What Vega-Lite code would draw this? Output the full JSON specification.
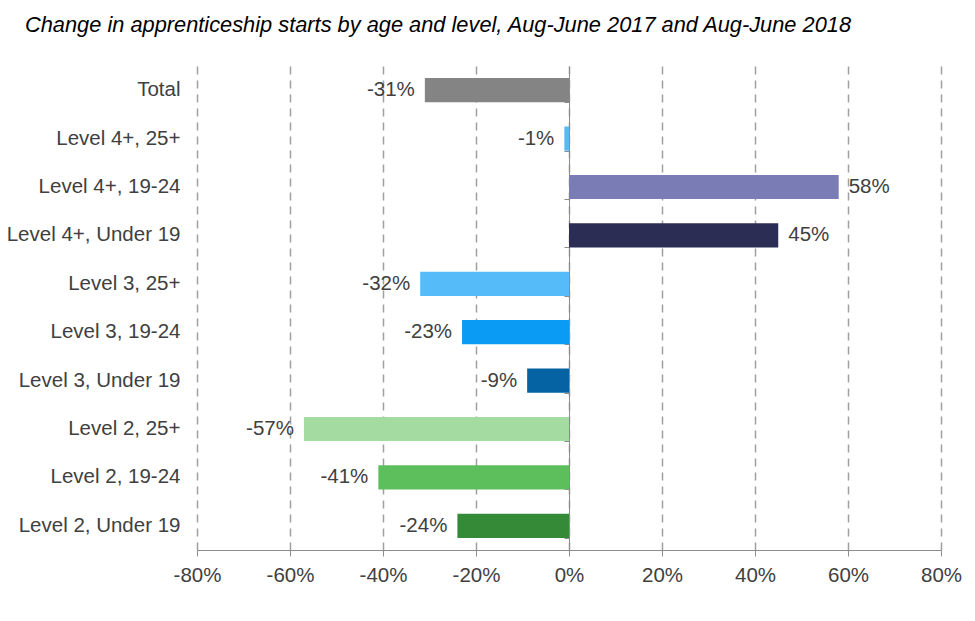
{
  "$schema": "https://vega.github.io/schema/vega-lite/v6.json",
  "autosize": {"type": "none"},
  "width": 744,
  "height": 484,
  "padding": {"left": 197, "top": 66, "right": 34, "bottom": 71},
  "background": "white",
  "title": {
    "text": "Change in apprenticeship starts by age and level, Aug-June 2017 and Aug-June 2018",
    "anchor": "start",
    "frame": "group",
    "dx": -172,
    "offset": 29,
    "font": "Liberation Sans",
    "fontSize": 21.8,
    "fontStyle": "italic",
    "fontWeight": "normal",
    "color": "#000000"
  },
  "config": {
    "view": {"stroke": null},
    "font": "Liberation Sans",
    "locale": {
      "number": {
        "decimal": ".",
        "thousands": ",",
        "grouping": [3],
        "currency": ["$", ""],
        "minus": "-"
      }
    }
  },
  "data": {
    "values": [
      {"group": "Total", "value": -0.31},
      {"group": "Level 4+, 25+", "value": -0.01},
      {"group": "Level 4+, 19-24", "value": 0.58},
      {"group": "Level 4+, Under 19", "value": 0.45},
      {"group": "Level 3, 25+", "value": -0.32},
      {"group": "Level 3, 19-24", "value": -0.23},
      {"group": "Level 3, Under 19", "value": -0.09},
      {"group": "Level 2, 25+", "value": -0.57},
      {"group": "Level 2, 19-24", "value": -0.41},
      {"group": "Level 2, Under 19", "value": -0.24}
    ]
  },
  "resolve": {"axis": {"y": "independent"}},
  "encoding": {
    "x": {
      "field": "value",
      "type": "quantitative",
      "scale": {"domain": [-0.8, 0.8], "nice": false},
      "axis": {
        "title": null,
        "format": ".0%",
        "labelExpr": "replace(datum.label, '\u2212', '-')",
        "values": [-0.8, -0.6, -0.4, -0.2, 0, 0.2, 0.4, 0.6, 0.8],
        "grid": true,
        "gridDash": [8, 6],
        "gridColor": "#a0a0a0",
        "gridWidth": 1.5,
        "domainColor": "#8c8c8c",
        "domainWidth": 1,
        "tickColor": "#8c8c8c",
        "tickSize": 6,
        "labelPadding": 9,
        "labelFlush": false,
        "labelOverlap": false,
        "labelBound": false,
        "labelFontSize": 20.5,
        "labelColor": "#404040",
        "labelFont": "Liberation Sans",
        "labelBaseline": "top"
      }
    }
  },
  "layer": [
    {
      "mark": {"type": "bar"},
      "encoding": {
        "y": {
          "field": "group",
          "type": "nominal",
          "sort": null,
          "scale": {"paddingInner": 0.5, "paddingOuter": 0.25},
          "axis": {
            "title": null,
            "orient": "left",
            "domain": false,
            "ticks": false,
            "labelPadding": 17,
            "labelFontSize": 20.5,
            "labelColor": "#404040",
            "labelFont": "Liberation Sans"
          }
        },
        "color": {
          "field": "group",
          "type": "nominal",
          "legend": null,
          "scale": {
            "domain": ["Total", "Level 4+, 25+", "Level 4+, 19-24", "Level 4+, Under 19", "Level 3, 25+", "Level 3, 19-24", "Level 3, Under 19", "Level 2, 25+", "Level 2, 19-24", "Level 2, Under 19"],
            "range": ["#848484", "#55bbf5", "#7a7db5", "#2b2d55", "#55bcf9", "#0a9cf5", "#0563a3", "#a3dba1", "#5cbf5c", "#358a38"]
          }
        }
      }
    },
    {
      "mark": {"type": "point", "opacity": 0},
      "encoding": {
        "y": {
          "field": "group",
          "type": "nominal",
          "sort": null,
          "axis": {
            "title": null,
            "orient": "left",
            "offset": -372,
            "labels": false,
            "domain": true,
            "domainColor": "#8c8c8c",
            "domainWidth": 1,
            "ticks": true,
            "tickBand": "extent",
            "tickSize": 5,
            "tickColor": "#8c8c8c",
            "grid": false
          }
        }
      }
    },
    {
      "transform": [{"filter": "datum.value < 0"}],
      "mark": {"type": "text", "align": "right", "dx": -10, "fontSize": 20.5, "color": "#404040", "font": "Liberation Sans"},
      "encoding": {
        "y": {"field": "group", "type": "nominal", "sort": null, "axis": null},
        "text": {"field": "value", "type": "quantitative", "format": ".0%"}
      }
    },
    {
      "transform": [{"filter": "datum.value >= 0"}],
      "mark": {"type": "text", "align": "left", "dx": 10, "fontSize": 20.5, "color": "#404040", "font": "Liberation Sans"},
      "encoding": {
        "y": {"field": "group", "type": "nominal", "sort": null, "axis": null},
        "text": {"field": "value", "type": "quantitative", "format": ".0%"}
      }
    }
  ]
}
